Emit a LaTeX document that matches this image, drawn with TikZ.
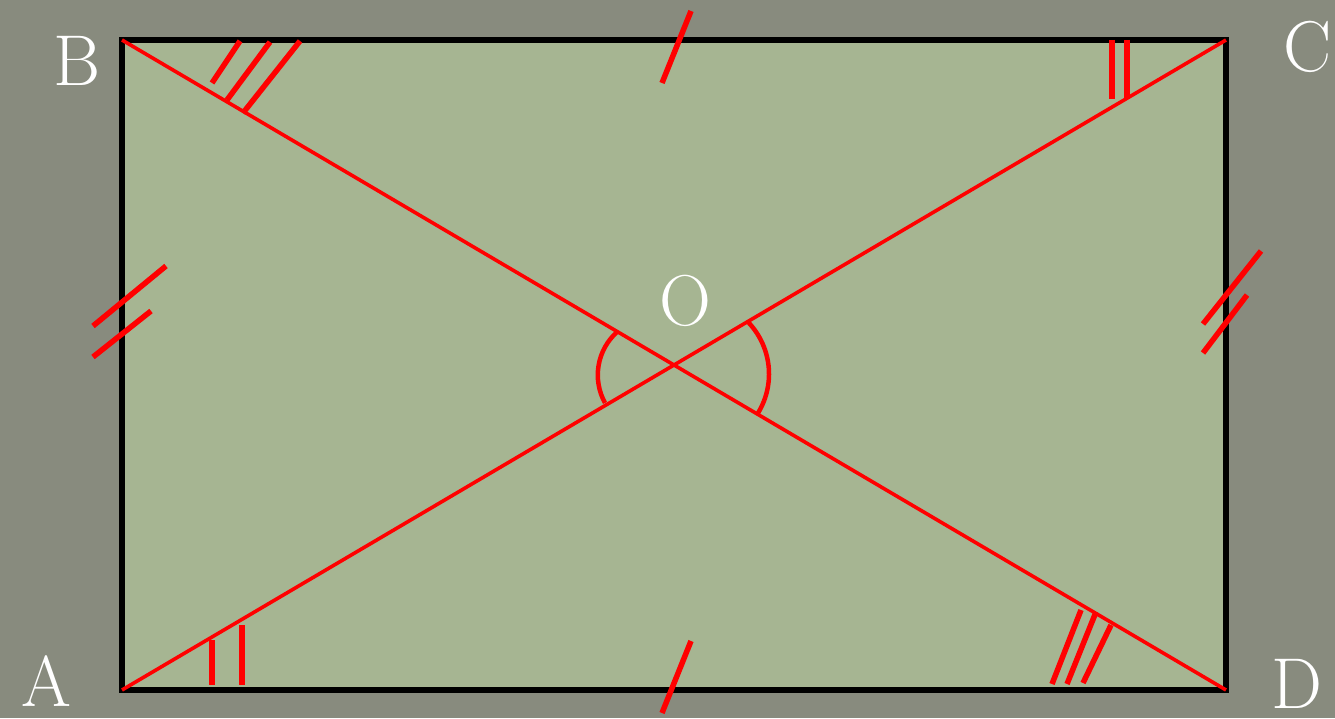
\documentclass[tikz,border=0pt]{standalone}
\usepackage{tikz}
\definecolor{bgc}{HTML}{888B7E}
\definecolor{rectc}{HTML}{A6B592}
\definecolor{markc}{HTML}{FF0000}
\begin{document}
\begin{tikzpicture}[x=1pt,y=1pt,
  lbl/.style={text=white,inner sep=0pt,font=\fontsize{72}{76}\selectfont},
  diag/.style={draw=markc,line width=3.6pt},
  tick/.style={draw=markc,line width=5.5pt},
  angarc/.style={draw=markc,line width=4.5pt}]
\fill[bgc] (0,0) rectangle (1335,718);
\useasboundingbox (0,0) rectangle (1335,718);
\coordinate (A) at (122,28);
\coordinate (B) at (122,678);
\coordinate (C) at (1226,678);
\coordinate (D) at (1226,28);
\coordinate (O) at (674,353);
\fill[rectc] (A) rectangle (C);
\draw[line width=5.5pt] (A) -- (B) -- (C) -- (D) -- cycle;
\draw[diag] (A) -- (C);
\draw[diag] (B) -- (D);
% equal marks on sides
\draw[tick] (691,707) -- (662,635);
\draw[tick] (691,77) -- (662,5);
\draw[tick] (166,452) -- (93,392);
\draw[tick] (151,407) -- (93,361);
\draw[tick] (1261,467) -- (1203,394);
\draw[tick] (1247,423) -- (1203,365);
% angle marks
\draw[tick] (240,677) -- (212,635);
\draw[tick] (270,676) -- (227,618);
\draw[tick] (300,677) -- (243,605);
\draw[tick] (1112,678) -- (1112,619);
\draw[tick] (1127,678) -- (1127,619);
\draw[tick] (212,78) -- (212,33);
\draw[tick] (242,93) -- (242,33);
\draw[tick] (1081,108) -- (1052,34);
\draw[tick] (1096,106) -- (1067,34);
\draw[tick] (1111,93) -- (1083,35);
% arcs at O
\draw[angarc] (655.5,343) ++(131.8:57.7) arc[start angle=131.8,end angle=209,radius=57.7];
\draw[angarc] (694.1,344) ++(-31.4:74.9) arc[start angle=-31.4,end angle=45,radius=74.9];
% labels
\node[lbl] (lA) at (46,37) {A};
\node[lbl] (lB) at (77,657) {B};
\node[lbl] (lC) at (1308,671) {C};
\node[lbl] (lD) at (1297,34) {D};
\node[lbl] (lO) at (685,417) {O};
\end{tikzpicture}
\end{document}
